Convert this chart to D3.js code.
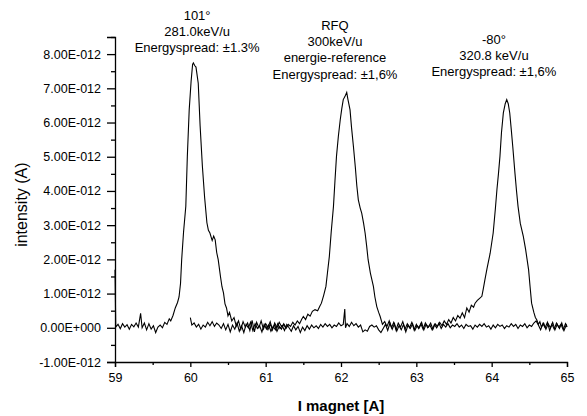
<!DOCTYPE html>
<html>
<head>
<meta charset="utf-8">
<script src="https://cdn.jsdelivr.net/npm/d3@7"></script>
<style>
  body { margin: 0; background: #fff; }
  text { font-family: "Liberation Sans", Arial, sans-serif; fill: #000; }
</style>
</head>
<body>
<div id="chart"></div>
<script>
// values in units of 1E-012 A
let xTicks = [59, 60, 61, 62, 63, 64, 65]
let yTicks = [-1, 0, 1, 2, 3, 4, 5, 6, 7, 8]
let yTickLabels = ['-1.00E-012', '0.00E+000', '1.00E-012', '2.00E-012', '3.00E-012', '4.00E-012',
                   '5.00E-012', '6.00E-012', '7.00E-012', '8.00E-012']

// 101 deg scan
let scan101 = [[59.00,1.70],[59.01,0.02],[59.04,0.10],[59.07,-0.03],[59.10,0.12],[59.13,0.02],[59.16,0.09],[59.19,-0.04],[59.22,0.10],[59.25,0.03],[59.28,0.14],[59.31,0.02],[59.34,0.42],[59.36,0.00],[59.39,0.14],[59.42,-0.06],[59.45,0.12],[59.48,-0.04],[59.51,0.06],[59.54,-0.14],[59.57,0.02],[59.60,0.08],[59.63,0.00],[59.66,0.16],[59.69,0.10],[59.72,0.26],[59.74,0.20],[59.77,0.36],[59.80,0.58],[59.83,0.74],[59.85,0.90],[59.87,1.30],[59.885,1.99],[59.91,2.80],[59.94,3.55],[59.96,5.00],[59.985,6.37],[60.01,7.20],[60.03,7.70],[60.04,7.74],[60.06,7.66],[60.075,7.62],[60.105,7.15],[60.13,5.90],[60.16,4.72],[60.19,3.80],[60.22,3.07],[60.24,2.85],[60.26,2.77],[60.29,2.55],[60.31,2.68],[60.33,2.57],[60.35,2.20],[60.37,1.99],[60.40,1.50],[60.42,1.20],[60.44,1.02],[60.46,0.70],[60.48,0.58],[60.50,0.35],[60.52,0.45],[60.55,0.20],[60.58,0.30],[60.61,0.05],[60.64,0.20],[60.67,-0.05],[60.70,0.18],[60.73,0.02],[60.76,0.14],[60.79,-0.08],[60.82,0.22],[60.85,-0.12],[60.88,0.16],[60.91,0.00],[60.94,0.20],[60.97,-0.04],[61.00,0.12],[61.03,0.02],[61.06,0.18],[61.09,-0.06],[61.12,0.14],[61.15,0.00],[61.18,0.16],[61.21,0.04],[61.24,0.10],[61.27,-0.02],[61.30,0.08]]

// RFQ scan
let scanRFQ = [[61.00,0.06],[61.03,-0.06],[61.06,0.10],[61.09,-0.02],[61.12,0.08],[61.15,-0.10],[61.18,0.04],[61.21,-0.04],[61.24,0.12],[61.27,0.00],[61.30,0.10],[61.33,0.04],[61.36,0.16],[61.39,0.08],[61.42,0.20],[61.45,0.12],[61.48,0.26],[61.50,0.33],[61.53,0.24],[61.56,0.40],[61.59,0.34],[61.62,0.48],[61.655,0.53],[61.69,0.50],[61.72,0.64],[61.74,0.72],[61.77,0.95],[61.80,1.21],[61.82,1.60],[61.845,2.08],[61.87,2.80],[61.90,3.55],[61.92,4.30],[61.94,5.01],[61.965,5.60],[61.99,6.08],[62.01,6.40],[62.03,6.67],[62.05,6.75],[62.076,6.88],[62.09,6.70],[62.12,6.37],[62.14,5.85],[62.165,5.30],[62.19,4.70],[62.21,4.15],[62.23,3.74],[62.255,3.50],[62.275,3.35],[62.30,3.05],[62.32,2.77],[62.34,2.40],[62.36,1.99],[62.39,1.60],[62.43,1.21],[62.45,0.90],[62.475,0.62],[62.50,0.45],[62.52,0.33],[62.55,0.10],[62.58,0.18],[62.61,0.04],[62.64,0.20],[62.67,0.00],[62.70,0.16],[62.73,-0.06],[62.76,0.14],[62.79,0.02],[62.82,0.18],[62.85,-0.04],[62.88,0.12],[62.91,0.00],[62.94,0.16],[62.97,-0.06],[63.00,0.10],[63.03,-0.02],[63.06,0.12],[63.09,-0.04],[63.12,0.14],[63.15,0.00],[63.18,0.08],[63.21,-0.06],[63.24,0.10],[63.27,0.00],[63.30,0.14],[63.33,-0.02],[63.36,0.10],[63.39,0.02],[63.42,0.12],[63.45,0.00],[63.48,0.08],[63.51,0.04],[63.54,0.12],[63.57,0.02],[63.60,0.08],[63.63,-0.02],[63.66,0.10],[63.69,0.04],[63.72,0.06],[63.75,-0.04],[63.78,0.08],[63.81,0.02],[63.84,0.10],[63.87,0.04],[63.90,0.12],[63.93,0.02],[63.96,0.06],[63.99,-0.04],[64.02,0.08],[64.05,0.00],[64.08,0.10],[64.11,0.04],[64.14,0.08],[64.17,-0.02],[64.20,0.06],[64.23,0.02],[64.26,0.12],[64.29,0.04],[64.32,0.10],[64.35,-0.02],[64.38,0.08],[64.41,0.04],[64.44,0.12],[64.47,0.00],[64.50,0.08],[64.53,0.04],[64.56,0.14],[64.59,0.20],[64.62,0.08],[64.65,-0.06],[64.68,0.12],[64.71,0.00],[64.74,0.16],[64.77,-0.08],[64.80,0.10],[64.83,-0.04],[64.86,0.14],[64.89,0.02],[64.92,0.10],[64.95,-0.06],[64.98,0.12],[65.00,0.04]]

// -80 deg scan
let scanMinus80 = [[60.00,0.30],[60.02,0.08],[60.05,0.14],[60.08,0.02],[60.11,0.10],[60.14,-0.04],[60.17,0.08],[60.20,0.02],[60.23,0.16],[60.26,0.06],[60.29,0.18],[60.32,0.04],[60.35,0.14],[60.38,0.08],[60.41,-0.02],[60.44,0.12],[60.47,-0.06],[60.50,0.10],[60.53,-0.12],[60.56,0.08],[60.59,-0.04],[60.62,0.14],[60.65,-0.10],[60.68,0.06],[60.71,-0.14],[60.74,0.10],[60.77,0.00],[60.80,0.16],[60.83,-0.08],[60.86,0.12],[60.89,-0.02],[60.92,0.06],[60.95,-0.12],[60.98,0.10],[61.01,-0.04],[61.04,0.08],[61.07,-0.10],[61.10,0.04],[61.13,-0.06],[61.16,0.12],[61.19,-0.02],[61.22,0.06],[61.25,-0.08],[61.28,0.10],[61.31,0.00],[61.34,-0.10],[61.37,0.06],[61.40,-0.06],[61.43,0.04],[61.46,-0.14],[61.49,0.02],[61.52,-0.08],[61.55,0.06],[61.58,-0.04],[61.61,0.08],[61.64,0.00],[61.67,0.06],[61.70,-0.02],[61.73,0.10],[61.76,0.02],[61.79,0.12],[61.82,0.04],[61.85,0.10],[61.88,0.00],[61.91,0.08],[61.94,0.04],[61.97,0.14],[62.00,0.06],[62.03,0.10],[62.05,0.55],[62.06,0.00],[62.08,0.12],[62.11,0.04],[62.14,0.16],[62.17,0.06],[62.20,0.12],[62.23,0.02],[62.26,0.08],[62.29,-0.12],[62.32,-0.06],[62.35,-0.10],[62.38,0.04],[62.41,0.08],[62.44,0.02],[62.47,0.06],[62.50,-0.06],[62.53,-0.14],[62.56,-0.02],[62.59,0.10],[62.62,-0.08],[62.65,0.14],[62.68,-0.04],[62.71,0.12],[62.74,-0.10],[62.77,0.06],[62.80,-0.06],[62.83,0.10],[62.86,-0.12],[62.89,0.08],[62.92,-0.02],[62.95,0.12],[62.98,-0.08],[63.01,0.06],[63.04,0.00],[63.07,0.16],[63.10,-0.06],[63.13,0.10],[63.16,0.02],[63.19,0.14],[63.22,-0.04],[63.25,0.12],[63.28,0.04],[63.31,0.16],[63.34,0.06],[63.37,0.20],[63.40,0.10],[63.43,0.24],[63.46,0.14],[63.49,0.30],[63.52,0.20],[63.55,0.36],[63.58,0.28],[63.61,0.44],[63.64,0.30],[63.67,0.58],[63.70,0.46],[63.73,0.66],[63.76,0.60],[63.78,0.72],[63.81,0.80],[63.84,0.86],[63.87,0.92],[63.89,1.15],[63.91,1.40],[63.94,1.75],[63.98,2.18],[64.02,2.77],[64.05,3.50],[64.07,4.04],[64.09,4.50],[64.11,5.01],[64.13,5.70],[64.155,6.28],[64.18,6.55],[64.20,6.67],[64.22,6.55],[64.24,6.28],[64.26,5.80],[64.28,5.30],[64.31,4.50],[64.33,4.00],[64.35,3.55],[64.38,3.05],[64.42,2.67],[64.45,2.30],[64.49,1.70],[64.51,1.20],[64.53,0.72],[64.56,0.45],[64.58,0.30],[64.60,0.23],[64.62,0.10],[64.64,0.18],[64.66,0.02],[64.69,0.14],[64.72,-0.04],[64.75,0.12],[64.78,0.00],[64.81,0.16],[64.84,-0.06],[64.87,0.10],[64.90,-0.02],[64.93,0.14],[64.96,-0.08],[64.99,0.08],[65.00,0.02]]

// annotations: [x position (A), y position (1E-012), lines]
let notes = [
  [60.09, 9.0, ['101°', '281.0keV/u', 'Energyspread: ±1.3%']],
  [61.92, 8.71, ['RFQ', '300keV/u', 'energie-reference', 'Energyspread: ±1,6%']],
  [64.03, 8.3, ['-80°', '320.8 keV/u', 'Energyspread: ±1,6%']]
]

let width = 587
let height = 416
let margin = {left: 115, right: 20, top: 37, bottom: 54}

let svg = d3.select('#chart').append('svg')
            .attr('width', width)
            .attr('height', height)

let xScale = d3.scaleLinear().domain([59, 65]).range([margin.left, width - margin.right])
let yScale = d3.scaleLinear().domain([-1, 8.5]).range([height - margin.bottom, margin.top])

// -- x axis
let xAxis = d3.axisBottom(xScale).tickValues(xTicks).tickFormat(d3.format('d')).tickSize(5).tickPadding(6)
svg.append('g')
   .attr('transform', 'translate(0,' + yScale(-1) + ')')
   .call(xAxis)
   .call(g => g.selectAll('text').style('font-size', '12.5px'))
svg.append('g')
   .attr('transform', 'translate(0,' + yScale(-1) + ')')
   .call(d3.axisBottom(xScale).tickValues(xTicks.slice(1).map(d => d - 0.5)).tickFormat('').tickSize(3))
   .call(g => g.select('.domain').remove())

// -- y axis
let yAxis = d3.axisLeft(yScale).tickValues(yTicks).tickFormat((d, i) => yTickLabels[i]).tickSize(8).tickPadding(6)
svg.append('g')
   .attr('transform', 'translate(' + xScale(59) + ',0)')
   .call(yAxis)
   .call(g => g.selectAll('text').style('font-size', '12.5px'))
svg.append('g')
   .attr('transform', 'translate(' + xScale(59) + ',0)')
   .call(d3.axisLeft(yScale).tickValues(yTicks.map(d => d + 0.5)).tickFormat('').tickSize(4))
   .call(g => g.select('.domain').remove())

svg.selectAll('.domain, .tick line').attr('stroke', '#000').attr('stroke-width', 1.3)

// -- axis titles
svg.append('text')
   .attr('x', (xScale(59) + xScale(65)) / 2)
   .attr('y', 411)
   .attr('text-anchor', 'middle')
   .style('font-size', '15px')
   .style('font-weight', 'bold')
   .text('I magnet [A]')

svg.append('text')
   .attr('transform', 'translate(27,' + yScale(3.6) + ') rotate(-90)')
   .attr('text-anchor', 'middle')
   .style('font-size', '16px')
   .text('intensity (A)')

// -- traces
let line = d3.line().x(d => xScale(d[0])).y(d => yScale(d[1]))
;[scan101, scanRFQ, scanMinus80].forEach(s => {
  svg.append('path')
     .datum(s)
     .attr('d', line)
     .attr('fill', 'none')
     .attr('stroke', '#000')
     .attr('stroke-width', 1.1)
})

// -- annotations
notes.forEach(n => {
  let t = svg.append('text')
             .attr('text-anchor', 'middle')
             .style('font-size', '13px')
  n[2].forEach((s, i) => {
    t.append('tspan')
     .attr('x', xScale(n[0]))
     .attr('y', yScale(n[1]) + i * 16.3)
     .text(s)
  })
})
</script>
</body>
</html>
